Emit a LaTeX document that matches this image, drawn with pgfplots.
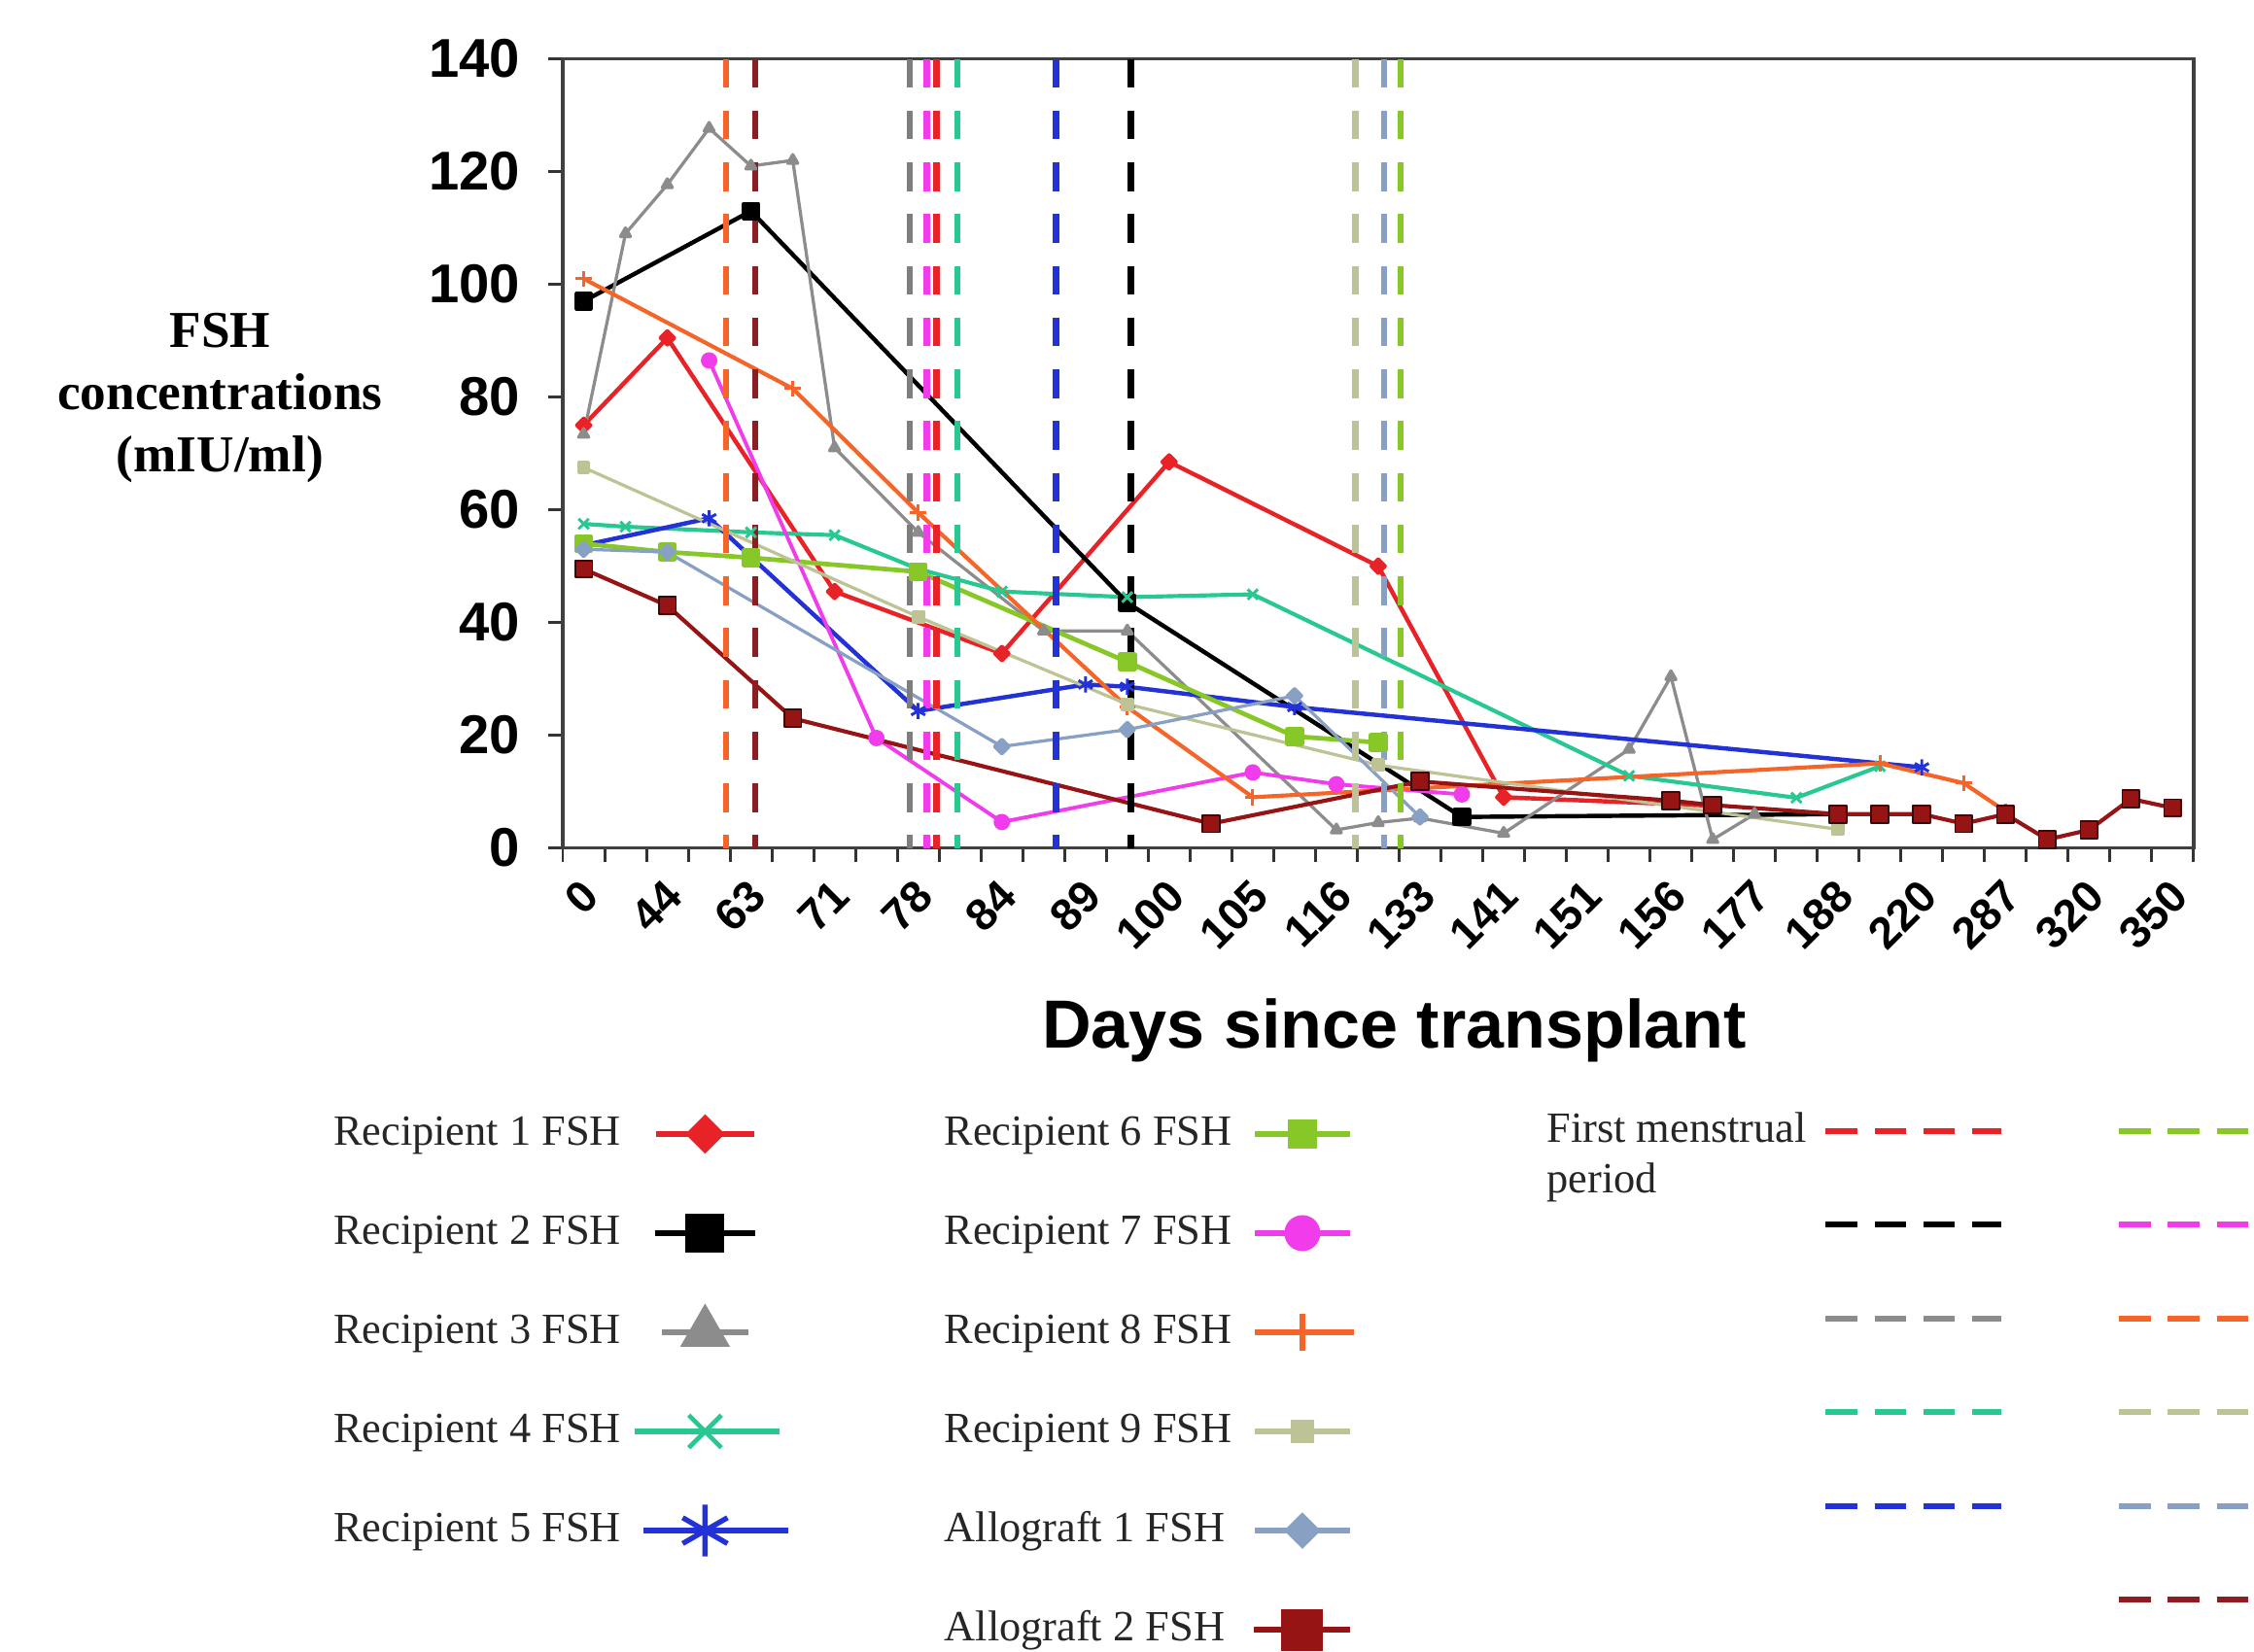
\documentclass[border=0pt]{standalone}
\usepackage{pgfplots}
\pgfplotsset{compat=1.18}
\usepackage{fontspec}
\setmainfont{Liberation Serif}
\newfontfamily\arialfont{Liberation Sans}

\definecolor{c1}{RGB}{232,35,40}
\definecolor{c2}{RGB}{0,0,0}
\definecolor{c3}{RGB}{140,140,140}
\definecolor{c4}{RGB}{40,200,145}
\definecolor{c5}{RGB}{35,50,215}
\definecolor{c6}{RGB}{135,200,40}
\definecolor{c7}{RGB}{240,60,235}
\definecolor{c8}{RGB}{245,100,40}
\definecolor{c9}{RGB}{190,195,150}
\definecolor{a1}{RGB}{135,160,195}
\definecolor{a2}{RGB}{150,20,20}
\definecolor{brn}{RGB}{140,30,35}

\newcommand{\legimgA}[2]{\path[draw=none,fill=none] (-26.25pt,-12pt) rectangle (81.25pt,12pt); \draw[mark repeat=2,mark phase=2] plot coordinates {(-#1,0pt) (0pt,0pt) (#2,0pt)};}
\newcommand{\legimgB}[2]{\path[draw=none,fill=none] (-21pt,-12pt) rectangle (20pt,12pt); \draw[mark repeat=2,mark phase=2] plot coordinates {(-#1,0pt) (0pt,0pt) (#2,0pt)};}
\newcommand{\dashimgA}{\path[draw=none,fill=none] (0pt,-7pt) rectangle (98pt,7pt); \draw (0pt,0pt) -- (61pt,0pt);}
\newcommand{\dashimgB}{\path[draw=none,fill=none] (0pt,-7pt) rectangle (61pt,7pt); \draw (0pt,0pt) -- (61pt,0pt);}
\newcommand{\fmp}{\smash{\parbox[t]{95pt}{\raggedright First menstrual\newline period}}}

\begin{document}
\begin{tikzpicture}
\useasboundingbox (-195.75pt,-279.5pt) rectangle (588.25pt,295pt);
\begin{axis}[
  at={(0pt,0pt)}, anchor=south west,
  scale only axis, width=567.25pt, height=274.5pt,
  xmin=-0.5, xmax=38.5, ymin=0, ymax=140,
  clip=false,
  xtick={-0.5,0.5,1.5,2.5,3.5,4.5,5.5,6.5,7.5,8.5,9.5,10.5,11.5,12.5,13.5,14.5,15.5,16.5,17.5,18.5,19.5,20.5,21.5,22.5,23.5,24.5,25.5,26.5,27.5,28.5,29.5,30.5,31.5,32.5,33.5,34.5,35.5,36.5,37.5,38.5},
  xticklabels={0,,44,,63,,71,,78,,84,,89,,100,,105,,116,,133,,141,,151,,156,,177,,188,,220,,287,,320,,350,},
  ytick={0,20,40,60,80,100,120,140},
  tick align=outside, tick pos=left,
  major tick length=5pt,
  every tick/.style={black!80, line width=1pt},
  axis line style={black!75, line width=1.2pt},
  /pgf/number format/assume math mode=true,
  yticklabel style={font=\arialfont\bfseries\fontsize{19}{19}\selectfont, inner sep=0pt, xshift=-9.75pt},
  xticklabel style={font=\arialfont\bfseries\fontsize{15.5}{15.5}\selectfont, inner sep=0pt, xshift=5.8pt, yshift=-5pt, rotate=45, anchor=north east},
  xlabel={Days since transplant},
  ylabel={FSH\\concentrations\\(mIU/ml)},
  every axis x label/.style={at={(axis description cs:0.5099,-0.2313)}, anchor=center, inner sep=0pt, font=\arialfont\bfseries\fontsize{23.7}{28}\selectfont},
  every axis y label/.style={at={(axis description cs:-0.2102,0.5701)}, anchor=center, align=center, inner sep=0pt, font=\bfseries\fontsize{18}{21.75}\selectfont},
  legend columns=2, legend plot pos=right, legend cell align=left,
  legend style={at={(-0.14059,-0.31876)}, anchor=north west, draw=none, fill=none, inner sep=0pt, outer sep=0pt, column sep=2pt, row sep=10.5pt, font=\fontsize{15}{18}\selectfont, nodes={inner sep=0pt, text height=11pt, text depth=3pt, text=black!85}},
]
% data series
\addplot[c1, line width=1.5pt, line join=round, mark=square*, mark size=1.6pt, mark options={rotate=45, solid}, forget plot] coordinates {(0,75) (2,90.5) (6,45.5) (10,34.5) (14,68.5) (19,50) (22,9) (27,7.5)};
\addplot[c2, line width=1.5pt, line join=round, mark=square*, mark size=2.5pt, mark options={solid}, forget plot] coordinates {(0,97) (4,113) (13,43.5) (21,5.5) (30,6)};
\addplot[c3, line width=1.1pt, line join=round, mark=triangle*, mark size=2pt, mark options={solid}, forget plot] coordinates {(0,73.4) (1,109) (2,117.7) (3,127.7) (4,121) (5,122) (6,71) (8,56) (11,38.5) (13,38.5) (18,3.2) (19,4.5) (20,5.3) (22,2.6) (25,17.5) (26,30.4) (27,1.5) (28,6)};
\addplot[c4, line width=1.4pt, line join=round, mark=x, mark size=2.5pt, mark options={solid, line width=1pt}, forget plot] coordinates {(0,57.5) (1,57) (4,56) (6,55.5) (8,49.5) (10,45.5) (13,44.5) (16,45) (25,12.8) (29,8.9) (31,14.5)};
\addplot[c5, line width=1.5pt, line join=round, mark=asterisk, mark size=2.8pt, mark options={solid, line width=1pt}, forget plot] coordinates {(0,53.7) (3,58.5) (8,24.3) (12,29) (13,28.6) (17,25) (32,14.3)};
\addplot[c6, line width=1.6pt, line join=round, mark=square*, mark size=2.5pt, mark options={solid}, forget plot] coordinates {(0,54) (2,52.5) (4,51.5) (8,49) (13,33) (17,19.8) (19,18.7)};
\addplot[c7, line width=1.3pt, line join=round, mark=*, mark size=2.2pt, mark options={solid}, forget plot] coordinates {(3,86.5) (7,19.5) (10,4.6) (16,13.4) (18,11.3) (21,9.5)};
\addplot[c8, line width=1.4pt, line join=round, mark=+, mark size=2.8pt, mark options={solid, line width=1pt}, forget plot] coordinates {(0,101) (5,81.5) (8,59.5) (13,25) (16,9) (31,15) (33,11.5) (34,6.5)};
\addplot[c9, line width=1.1pt, line join=round, mark=square*, mark size=1.8pt, mark options={solid}, forget plot] coordinates {(0,67.5) (8,41) (13,25.5) (19,14.7) (30,3.3)};
\addplot[a1, line width=1.1pt, line join=round, mark=square*, mark size=1.8pt, mark options={rotate=45, solid}, forget plot] coordinates {(0,53) (2,52.5) (10,18) (13,21) (17,27) (20,5.5)};
\addplot[a2, line width=1.4pt, line join=round, mark=square*, mark size=3pt, mark options={solid, fill=a2, draw=black!60!a2, line width=0.6pt}, forget plot] coordinates {(0,49.5) (2,43) (5,23) (15,4.3) (20,11.8) (26,8.4) (27,7.6) (30,6) (31,6) (32,6) (33,4.3) (34,6) (35,1.5) (36,3.2) (37,8.7) (38,7.1)};
% first menstrual period lines
\addplot[c8, line width=2.2pt, dash pattern=on 10pt off 8pt, forget plot] coordinates {(3.4,140) (3.4,0)};
\addplot[brn, line width=2.2pt, dash pattern=on 10pt off 8pt, forget plot] coordinates {(4.1,140) (4.1,0)};
\addplot[c3!90!black, line width=2.2pt, dash pattern=on 10pt off 8pt, forget plot] coordinates {(7.8,140) (7.8,0)};
\addplot[c7, line width=2.2pt, dash pattern=on 10pt off 8pt, forget plot] coordinates {(8.21,140) (8.21,0)};
\addplot[c1, line width=2.2pt, dash pattern=on 10pt off 8pt, forget plot] coordinates {(8.44,140) (8.44,0)};
\addplot[c4, line width=2.2pt, dash pattern=on 10pt off 8pt, forget plot] coordinates {(8.94,140) (8.94,0)};
\addplot[c5, line width=2.2pt, dash pattern=on 10pt off 8pt, forget plot] coordinates {(11.3,140) (11.3,0)};
\addplot[c2, line width=2.2pt, dash pattern=on 10pt off 8pt, forget plot] coordinates {(13.08,140) (13.08,0)};
\addplot[c9, line width=2.2pt, dash pattern=on 10pt off 8pt, forget plot] coordinates {(18.46,140) (18.46,0)};
\addplot[a1, line width=2.2pt, dash pattern=on 10pt off 8pt, forget plot] coordinates {(19.14,140) (19.14,0)};
\addplot[c6, line width=2.2pt, dash pattern=on 10pt off 8pt, forget plot] coordinates {(19.54,140) (19.54,0)};
% legend
\addlegendimage{c1, line width=2pt, mark=square*, mark size=4.6pt, mark options={rotate=45, solid, line width=0.5pt}, legend image code/.code={\legimgA{17pt}{17pt}}}
\addlegendentry{\makebox[101pt][l]{Recipient 1 FSH}}
\addlegendimage{c6, line width=2pt, mark=square*, mark size=4.7pt, mark options={solid, line width=0.5pt}, legend image code/.code={\legimgB{16.5pt}{16.5pt}}}
\addlegendentry{\makebox[101.5pt][l]{Recipient 6 FSH}}
\addlegendimage{c2, line width=2pt, mark=square*, mark size=6.5pt, mark options={solid, line width=0.5pt}, legend image code/.code={\legimgA{17.5pt}{17.5pt}}}
\addlegendentry{\makebox[101pt][l]{Recipient 2 FSH}}
\addlegendimage{c7, line width=2pt, mark=*, mark size=6pt, mark options={solid, line width=0.5pt}, legend image code/.code={\legimgB{16.5pt}{16.5pt}}}
\addlegendentry{\makebox[101.5pt][l]{Recipient 7 FSH}}
\addlegendimage{c3, line width=2pt, mark=triangle*, mark size=9.5pt, mark options={solid, line width=0.5pt}, legend image code/.code={\legimgA{15pt}{15pt}}}
\addlegendentry{\makebox[101pt][l]{Recipient 3 FSH}}
\addlegendimage{c8, line width=2pt, mark=+, mark size=6.5pt, mark options={solid, line width=2pt}, legend image code/.code={\legimgB{16.5pt}{18pt}}}
\addlegendentry{\makebox[101.5pt][l]{Recipient 8 FSH}}
\addlegendimage{c4, line width=2pt, mark=x, mark size=8pt, mark options={solid, line width=1.6pt}, legend image code/.code={\legimgA{24.5pt}{26pt}}}
\addlegendentry{\makebox[101pt][l]{Recipient 4 FSH}}
\addlegendimage{c9, line width=2pt, mark=square*, mark size=3.9pt, mark options={solid, line width=0.5pt}, legend image code/.code={\legimgB{16.5pt}{16.5pt}}}
\addlegendentry{\makebox[101.5pt][l]{Recipient 9 FSH}}
\addlegendimage{c5, line width=2pt, mark=asterisk, mark size=9pt, mark options={solid, line width=1.8pt}, legend image code/.code={\legimgA{21.5pt}{29pt}}}
\addlegendentry{\makebox[101pt][l]{Recipient 5 FSH}}
\addlegendimage{a1, line width=2pt, mark=square*, mark size=4.25pt, mark options={rotate=45, solid, line width=0.5pt}, legend image code/.code={\legimgB{16.5pt}{16.5pt}}}
\addlegendentry{\makebox[101.5pt][l]{Allograft 1 FSH}}
\addlegendimage{empty legend}
\addlegendentry{}
\addlegendimage{a2, line width=2pt, mark=square*, mark size=7pt, mark options={solid, line width=0.5pt}, legend image code/.code={\legimgB{17pt}{16.5pt}}}
\addlegendentry{\makebox[101.5pt][l]{Allograft 2 FSH}}
\end{axis}

\begin{axis}[
  at={(0pt,0pt)}, anchor=south west,
  scale only axis, width=567.25pt, height=274.5pt,
  hide axis, xmin=0, xmax=1, ymin=0, ymax=1,
  legend columns=2, legend plot pos=right, legend cell align=left,
  legend style={at={(0.60335,-0.33333)}, anchor=north west, draw=none, fill=none, inner sep=0pt, outer sep=0pt, column sep=1pt, row sep=18.6pt, font=\fontsize{15}{17.5}\selectfont, nodes={inner sep=0pt, text height=11pt, text depth=3pt, text=black!85}},
]
\addlegendimage{c1, line width=2pt, dash pattern=on 11pt off 6pt, legend image code/.code={\dashimgA}}
\addlegendentry{\fmp}
\addlegendimage{c6, line width=2pt, dash pattern=on 11pt off 6pt, legend image code/.code={\dashimgB}}
\addlegendentry{}
\addlegendimage{c2, line width=2pt, dash pattern=on 11pt off 6pt, legend image code/.code={\dashimgA}}
\addlegendentry{}
\addlegendimage{c7, line width=2pt, dash pattern=on 11pt off 6pt, legend image code/.code={\dashimgB}}
\addlegendentry{}
\addlegendimage{c3, line width=2pt, dash pattern=on 11pt off 6pt, legend image code/.code={\dashimgA}}
\addlegendentry{}
\addlegendimage{c8, line width=2pt, dash pattern=on 11pt off 6pt, legend image code/.code={\dashimgB}}
\addlegendentry{}
\addlegendimage{c4, line width=2pt, dash pattern=on 11pt off 6pt, legend image code/.code={\dashimgA}}
\addlegendentry{}
\addlegendimage{c9, line width=2pt, dash pattern=on 11pt off 6pt, legend image code/.code={\dashimgB}}
\addlegendentry{}
\addlegendimage{c5, line width=2pt, dash pattern=on 11pt off 6pt, legend image code/.code={\dashimgA}}
\addlegendentry{}
\addlegendimage{a1, line width=2pt, dash pattern=on 11pt off 6pt, legend image code/.code={\dashimgB}}
\addlegendentry{}
\addlegendimage{empty legend}
\addlegendentry{}
\addlegendimage{brn, line width=2pt, dash pattern=on 11pt off 6pt, legend image code/.code={\dashimgB}}
\addlegendentry{}
\end{axis}
\end{tikzpicture}
\end{document}
